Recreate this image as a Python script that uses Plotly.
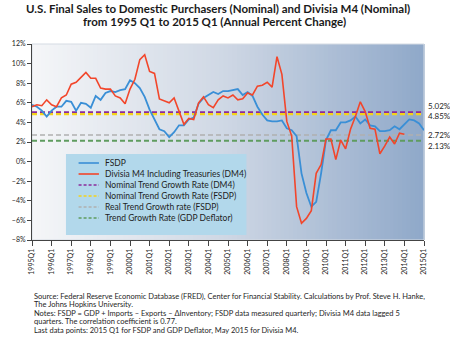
import plotly.graph_objects as go

# Quarterly categories, 1995Q1 .. 2015Q1
quarters = [f"{y}Q{q}" for y in range(1995, 2016) for q in range(1, 5)][:81]
year_ticks = [f"{y}Q1" for y in range(1995, 2016)]

# FSDP, annual percent change (1995Q1 .. 2015Q1)
fsdp = [5.8, 5.6, 5.2, 4.6, 5.2, 5.6, 5.6, 6.2, 6.1, 5.2,
        6.0, 5.9, 5.5, 6.7, 6.3, 7.0, 7.2, 7.1, 7.3, 7.4,
        8.3, 8.0, 7.5, 6.6, 5.3, 4.3, 3.3, 3.1, 2.5, 3.0,
        3.7, 3.7, 4.3, 4.5, 5.9, 6.5, 6.8, 7.1, 6.9, 7.2,
        7.2, 7.3, 7.4, 6.8, 7.1, 6.7, 5.6, 4.8, 4.2, 4.1,
        4.1, 4.2, 3.4, 3.2, 2.6, -1.2, -3.2, -4.6, -4.1, -1.2,
        2.2, 3.2, 3.2, 4.0, 4.0, 4.2, 4.6, 3.9, 4.3, 3.7,
        3.6, 3.1, 3.1, 3.2, 3.6, 3.3, 3.8, 4.3, 4.2, 3.9, 3.2]

# Divisia M4 incl. Treasuries, lagged 5 quarters (1995Q1 .. 2014Q1)
dm4 = [5.6, 5.8, 5.7, 6.3, 5.8, 5.6, 6.5, 6.8, 7.9, 8.1,
       8.6, 9.1, 8.5, 8.5, 7.5, 7.4, 7.4, 6.7, 6.5, 5.9,
       7.4, 8.4, 10.4, 10.9, 9.2, 9.0, 6.4, 6.2, 6.0, 6.5,
       5.1, 3.8, 4.4, 4.3, 6.0, 6.6, 5.8, 5.5, 6.3, 6.7,
       6.5, 6.8, 6.3, 6.4, 7.0, 6.8, 7.7, 7.8, 8.1, 7.6,
       10.7, 8.9, 4.1, 2.6, -4.6, -6.3, -5.8, -5.0, -1.2, -0.3,
       2.3, 2.3, 0.2, 2.2, 1.3, 3.3, 4.6, 6.1, 5.1, 3.4,
       3.3, 0.8, 1.6, 2.5, 1.8, 2.9, 2.8]

# Trend rates
trend_names = ["Nominal Trend Growth Rate (DM4)",
               "Nominal Trend Growth Rate (FSDP)",
               "Real Trend Growth rate (FSDP)",
               "Trend Growth Rate (GDP Deflator)"]
trend_values = [5.02, 4.85, 2.72, 2.13]
trend_colors = ["#8a2b9c", "#f5d21a", "#b0b0b0", "#5f9c5f"]
trend_widths = [2.2, 2.2, 1.6, 2.0]
trend_label_shift = [6, -2, 0, -5]

blue = "#3a8fd6"
red = "#f2462b"

fig = go.Figure()

for name, val, col, w in zip(trend_names, trend_values, trend_colors, trend_widths):
    fig.add_trace(go.Scatter(x=[quarters[0], quarters[-1]], y=[val, val], mode="lines",
                             line=dict(color=col, width=w, dash="5px,3px"),
                             name=name, showlegend=False, hoverinfo="skip"))

fig.add_trace(go.Scatter(x=quarters, y=fsdp, mode="lines", name="FSDP",
                         line=dict(color=blue, width=1.8), showlegend=False))
fig.add_trace(go.Scatter(x=quarters[:len(dm4)], y=dm4, mode="lines",
                         name="Divisia M4 Including Treasuries (DM4)",
                         line=dict(color=red, width=1.6), showlegend=False))

# plot-area geometry in pixels
W, H = 450, 338
L, R, T, B = 20, 26, 44, 98
pw, ph = W - L - R, H - T - B


def px_x(x):
    return (x - L) / pw


def px_y(y):
    return (H - B - y) / ph


shapes = []
# horizontal background gradient
stops = [(0.0, (245, 246, 248)), (0.5, (206, 215, 228)), (1.0, (143, 168, 201))]
N = 90
for i in range(N):
    t = (i + 0.5) / N
    for (a, ca), (b, cb) in zip(stops[:-1], stops[1:]):
        if a <= t <= b:
            f = (t - a) / (b - a)
            c = tuple(round(ca[k] + (cb[k] - ca[k]) * f) for k in range(3))
            break
    shapes.append(dict(type="rect", xref="paper", yref="paper", x0=i / N, x1=(i + 1) / N + 0.002,
                       y0=0, y1=1, fillcolor=f"rgb{c}", line=dict(width=0), layer="below"))
shapes.append(dict(type="rect", xref="paper", yref="paper", x0=0, x1=1, y0=0, y1=1,
                   line=dict(color="#d5dbe3", width=1), layer="below"))

# legend panel
shapes.append(dict(type="rect", xref="paper", yref="paper", x0=px_x(55), x1=px_x(241),
                   y0=px_y(235), y1=px_y(154), fillcolor="#b2d8eb", line=dict(width=0),
                   layer="below"))

legend_names = ["FSDP", "Divisia M4 Including Treasuries (DM4)"] + trend_names
legend_colors = [blue, red] + trend_colors
legend_dash = ["solid", "solid"] + ["3px,2px"] * 4
annotations = []
for k, (nm, col, dsh) in enumerate(zip(legend_names, legend_colors, legend_dash)):
    yy = 163 + k * 11
    shapes.append(dict(type="line", xref="paper", yref="paper", x0=px_x(68), x1=px_x(89),
                       y0=px_y(yy), y1=px_y(yy), line=dict(color=col, width=1.6, dash=dsh)))
    annotations.append(dict(text=nm, xref="paper", yref="paper", x=px_x(93), y=px_y(yy),
                            xanchor="left", yanchor="middle", showarrow=False,
                            font=dict(family="Lato", size=8.5, color="#1e1e1e")))

# value labels for the trend lines
for val, sh in zip(trend_values, trend_label_shift):
    annotations.append(dict(text=f"{val:.2f}%", xref="paper", yref="y", x=1, y=val,
                            xanchor="left", yanchor="middle", xshift=2, yshift=sh,
                            showarrow=False, font=dict(family="Lato", size=8, color="#1e1e1e")))

# two-line heading
title_lines = ["U.S. Final Sales to Domestic Purchasers (Nominal) and Divisia M4 (Nominal)",
               "from 1995 Q1 to 2015 Q1 (Annual Percent Change)"]
for k, (line, cx) in enumerate(zip(title_lines, [211.5, 208])):
    annotations.append(dict(text=f"<b>{line}</b>", xref="paper", yref="paper", x=px_x(cx),
                            y=px_y(8 + k * 14), xanchor="center", yanchor="middle",
                            showarrow=False,
                            font=dict(family="Lato", size=11.5, color="#1a1a1a")))

notes = [
    "Source: Federal Reserve Economic Database (FRED), Center for Financial Stability. Calculations by Prof. Steve H. Hanke,",
    "The Johns Hopkins University.",
    "Notes: FSDP = GDP + Imports \u2013 Exports \u2013 \u0394Inventory; FSDP data measured quarterly; Divisia M4 data lagged 5",
    "quarters. The correlation coefficient is 0.77.",
    "Last data points: 2015 Q1 for FSDP and GDP Deflator, May 2015 for Divisia M4.",
]
for k, line in enumerate(notes):
    annotations.append(dict(text=line, xref="paper", yref="paper", x=px_x(20), y=px_y(296.5 + k * 8.4),
                            xanchor="left", yanchor="middle", showarrow=False,
                            font=dict(family="Lato", size=7.5, color="#1e1e1e")))

fig.update_layout(
    width=W, height=H,
    margin=dict(l=L, r=R, t=T, b=B),
    paper_bgcolor="white", plot_bgcolor="rgba(0,0,0,0)",
    showlegend=False,
    shapes=shapes, annotations=annotations,
    xaxis=dict(type="category", categoryorder="array", categoryarray=quarters,
               range=[0, 80], tickmode="array", tickvals=year_ticks, ticktext=year_ticks,
               tickangle=-90, ticks="outside", ticklen=5, tickcolor="#444",
               showline=True, linecolor="#444", linewidth=1, showgrid=False, zeroline=False,
               tickfont=dict(family="Lato", size=7, color="#1e1e1e")),
    yaxis=dict(range=[-8, 12], dtick=2, ticksuffix="%", ticks="outside", ticklen=4,
               tickcolor="#444", showline=True, linecolor="#444", linewidth=1,
               showgrid=False, zeroline=False,
               tickfont=dict(family="Lato", size=7, color="#1e1e1e")),
)

fig.write_html("out.html")
